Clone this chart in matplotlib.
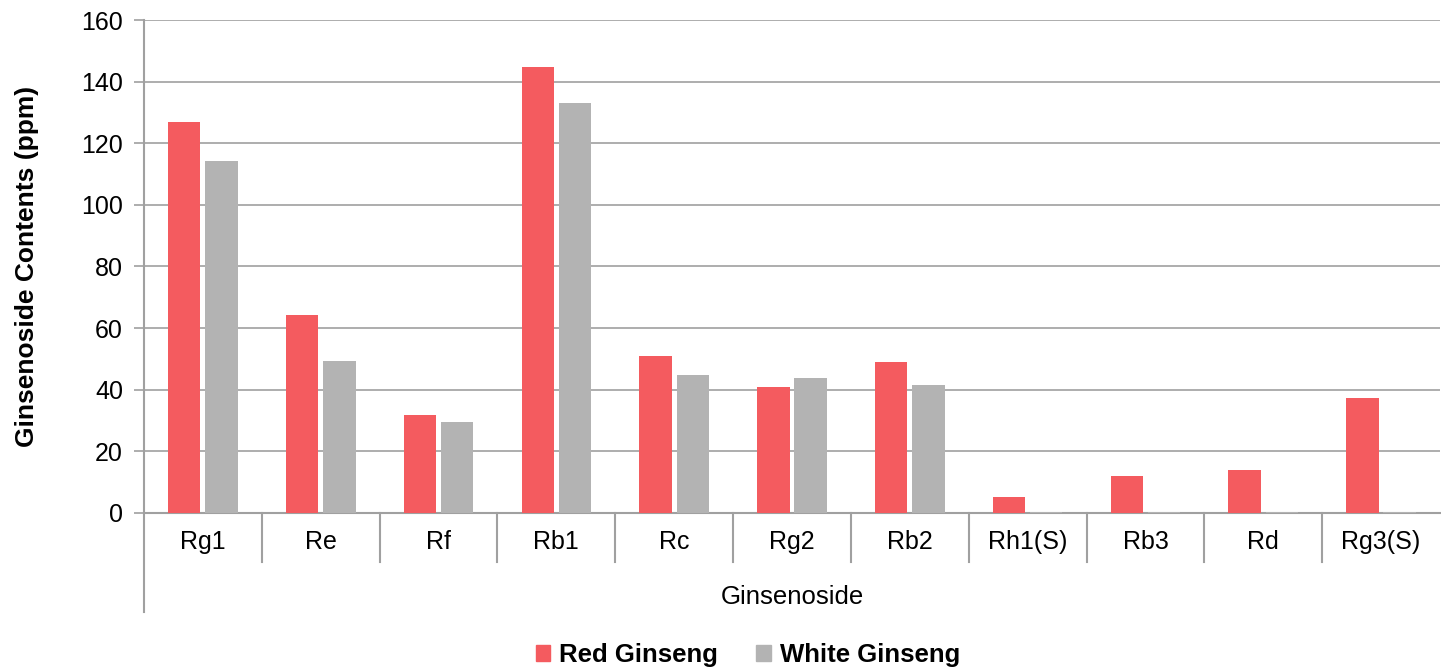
import matplotlib
matplotlib.use('Agg')
import matplotlib.pyplot as plt
import matplotlib.transforms as mtransforms
from matplotlib.patches import Patch
import numpy as np

plt.rcParams['font.family'] = ['Liberation Sans', 'DejaVu Sans']

categories = ['Rg1', 'Re', 'Rf', 'Rb1', 'Rc', 'Rg2', 'Rb2', 'Rh1(S)', 'Rb3', 'Rd', 'Rg3(S)']
red_ginseng = [127.0, 64.2, 31.8, 144.7, 50.8, 40.9, 49.1, 5.3, 12.0, 14.0, 37.2]
white_ginseng = [114.2, 49.4, 29.5, 133.0, 44.8, 43.7, 41.5, 0.4, 0.4, 0.4, 0.4]
series_names = ['Red Ginseng', 'White Ginseng']
yticks = [0, 20, 40, 60, 80, 100, 120, 140, 160]

red_col = '#F45B5F'
grey_col = '#B3B3B3'
line_col = '#A0A0A0'

fig = plt.figure(figsize=(14.41, 6.69), dpi=100)
ax = fig.add_axes([0.0999, 0.2332, 0.8994, 0.7369])

x = np.arange(len(categories))
w = 0.275
ax.bar(x - 0.158, red_ginseng, w, color=red_col, zorder=3)
ax.bar(x + 0.158, white_ginseng, w, color=grey_col, zorder=3)

ax.set_xlim(-0.5, len(categories) - 0.5)
ax.set_ylim(0, 160)
ax.set_yticks(yticks)
ax.yaxis.grid(True, color=line_col, linewidth=1.2, zorder=0)
ax.tick_params(axis='y', length=7, width=1.2, color=line_col, labelsize=18, pad=8)
ax.set_xticks(x)
ax.set_xticklabels(categories, fontsize=18)
ax.tick_params(axis='x', length=0, pad=12)

for s in ['top', 'right', 'left']:
    ax.spines[s].set_visible(False)
ax.spines['bottom'].set_color(line_col)
ax.spines['bottom'].set_linewidth(1.5)

# long left axis line and category separators below the plot
ax.plot([0, 0], [1, -0.2008], transform=ax.transAxes, color=line_col, lw=1.5, clip_on=False)
trans = mtransforms.blended_transform_factory(ax.transData, ax.transAxes)
for b in np.arange(0.5, len(categories) - 1, 1.0):
    ax.plot([b, b], [0, -0.0994], transform=trans, color=line_col, lw=1.5, clip_on=False)

ax.set_ylabel('Ginsenoside Contents (ppm)', fontsize=19, fontweight='bold')
ax.yaxis.set_label_coords(-0.081, 0.5)
ax.text(0.5, -0.17, 'Ginsenoside', transform=ax.transAxes, ha='center', va='center', fontsize=18.5)

handles = [Patch(color=red_col), Patch(color=grey_col)]
fig.legend(handles, series_names, loc='center', bbox_to_anchor=(0.519, 0.021), ncol=2,
           frameon=False, prop={'weight': 'bold', 'size': 18.5}, handlelength=0.55,
           handleheight=0.55, handletextpad=0.35, columnspacing=1.5)

plt.savefig('out.png', dpi=100)
